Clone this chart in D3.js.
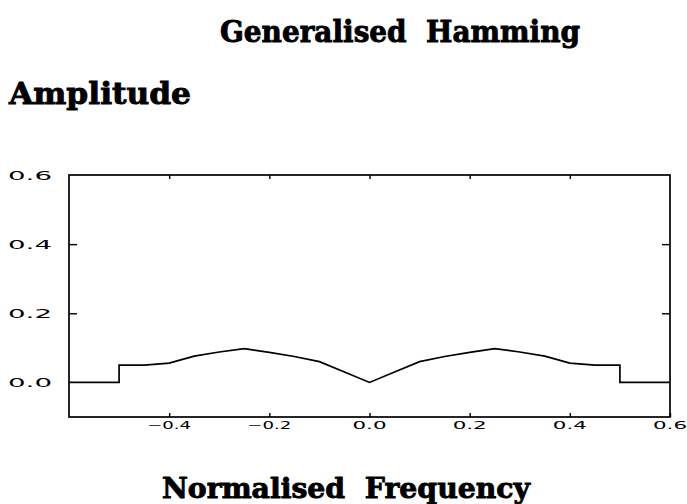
<!DOCTYPE html>
<html>
<head>
<meta charset="utf-8">
<script src="https://cdn.jsdelivr.net/npm/d3@7"></script>
<style>
  body { margin: 0; background: #fff; }
  svg { display: block; }
</style>
</head>
<body>
<svg width="687" height="504"></svg>
<script>
// normalised frequency and amplitude
const FREQ = [-0.6, -0.5, -0.5, -0.45, -0.4, -0.35, -0.3, -0.25, -0.2, -0.15, -0.1, -0.05, 0,
              0.05, 0.1, 0.15, 0.2, 0.25, 0.3, 0.35, 0.4, 0.45, 0.5, 0.5, 0.6];
const AMP = [0, 0, 0.05, 0.05, 0.056, 0.076, 0.088, 0.098, 0.087, 0.075, 0.06, 0.03, 0,
             0.03, 0.06, 0.075, 0.087, 0.098, 0.088, 0.076, 0.056, 0.05, 0.05, 0, 0];
const X_TICKS = [-0.4, -0.2, 0.0, 0.2, 0.4, 0.6];
const Y_TICKS = [0.0, 0.2, 0.4, 0.6];

const svg = d3.select('svg');

const x = d3.scaleLinear().domain([-0.6, 0.6]).range([69, 670]);
const y = d3.scaleLinear().domain([-0.1, 0.6]).range([417, 175]);

// frame
svg.append('rect')
    .attr('x', x(-0.6)).attr('y', y(0.6))
    .attr('width', x(0.6) - x(-0.6)).attr('height', y(-0.1) - y(0.6))
    .attr('fill', 'none').attr('stroke', '#000').attr('stroke-width', 1.7);

// axes: ticks drawn inward, labels placed separately
const axBottom = svg.append('g').attr('transform', `translate(0,${y(-0.1)})`)
    .call(d3.axisBottom(x).tickValues(X_TICKS).tickSize(-4).tickFormat(''));
const axTop = svg.append('g').attr('transform', `translate(0,${y(0.6)})`)
    .call(d3.axisTop(x).tickValues(X_TICKS.slice(0, -1)).tickSize(-4).tickFormat(''));
const axLeft = svg.append('g').attr('transform', `translate(${x(-0.6)},0)`)
    .call(d3.axisLeft(y).tickValues([0.2, 0.4]).tickSize(-8).tickFormat(''));
const axRight = svg.append('g').attr('transform', `translate(${x(0.6)},0)`)
    .call(d3.axisRight(y).tickValues([0.2, 0.4]).tickSize(-8).tickFormat(''));
[axBottom, axTop, axLeft, axRight].forEach(g => {
    g.select('.domain').remove();
    g.selectAll('line').attr('stroke', '#000').attr('stroke-width', 1.4);
});

const fmt = d3.format('.1f');
const tickFont = '"DejaVu Sans", sans-serif';

svg.append('g').selectAll('text')
    .data(X_TICKS)
    .enter().append('text')
    .attr('x', d => x(d))
    .attr('y', 429)
    .attr('text-anchor', 'middle')
    .attr('font-family', tickFont)
    .attr('font-size', 10)
    .attr('textLength', d => d < 0 ? 44 : 34)
    .attr('lengthAdjust', 'spacingAndGlyphs')
    .text(d => fmt(d).replace('-', '\u2212'));

svg.append('g').selectAll('text')
    .data(Y_TICKS)
    .enter().append('text')
    .attr('x', 8)
    .attr('y', d => y(d) + 5)
    .attr('font-family', tickFont)
    .attr('font-size', 13)
    .attr('textLength', 44)
    .attr('lengthAdjust', 'spacingAndGlyphs')
    .text(d => fmt(d));

// amplitude curve
const line = d3.line().x((d, i) => x(FREQ[i])).y(d => y(d));
svg.append('path')
    .datum(AMP)
    .attr('d', line)
    .attr('fill', 'none')
    .attr('stroke', '#000')
    .attr('stroke-width', 1.7);

// titles (thin stroke to get the heavy look of the original)
const serif = '"DejaVu Serif", "Liberation Serif", serif';
function label(txt, x0, base, len, size) {
    svg.append('text')
        .attr('x', x0).attr('y', base)
        .attr('font-family', serif)
        .attr('font-weight', 'bold')
        .attr('font-size', size)
        .attr('stroke', '#000')
        .attr('stroke-width', 0.9)
        .attr('textLength', len)
        .attr('lengthAdjust', 'spacingAndGlyphs')
        .attr('xml:space', 'preserve')
        .text(txt);
}
label('Generalised  Hamming', 220, 42, 360, 30);
label('Amplitude', 9, 104, 182, 30);
label('Normalised  Frequency', 162, 498, 368, 28);
</script>
</body>
</html>
